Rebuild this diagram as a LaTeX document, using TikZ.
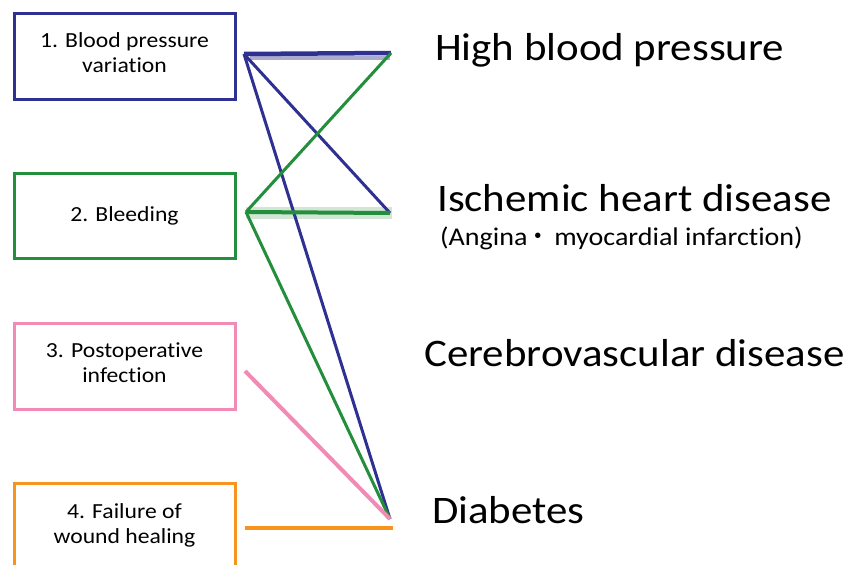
\documentclass[tikz,border=0pt]{standalone}
\usepackage{fontspec}
\setmainfont{Carlito}[FakeStretch=1.1,Ligatures=NoCommon]
\newfontfamily\cjk{Noto Sans CJK JP}
\newcommand{\lowstrut}{\rule[-6pt]{0pt}{6pt}}
\definecolor{cblue}{HTML}{2E3192}
\definecolor{cbluel}{HTML}{ABABCC}
\definecolor{cgreen}{HTML}{238E3B}
\definecolor{cgreenl}{HTML}{D3E5D5}
\definecolor{cpink}{HTML}{F28AB6}
\definecolor{corange}{HTML}{F7941D}
\begin{document}
\begin{tikzpicture}[x=1pt,y=-1pt,
  box/.style={draw,line width=3pt,fill=white,minimum width=221pt,align=center,
    inner sep=0pt,font=\fontsize{21.5}{25}\selectfont},
  big/.style={anchor=base west,inner sep=0pt,font=\fontsize{39}{44}\selectfont},
  small/.style={anchor=base west,inner sep=0pt,font=\fontsize{25.5}{28}\selectfont},
  link/.style={line width=3pt}]
\useasboundingbox (0,0) rectangle (852,565);
\clip (0,0) rectangle (852,565);
% boxes
\node[box,draw=cblue,minimum height=86pt] (b1) at (124.5,56) {1. Blood pressure\\variation\lowstrut};
\node[box,draw=cgreen,minimum height=85pt] (b2) at (124.5,215.5) {2. Bleeding};
\node[box,draw=cpink,minimum height=86pt] (b3) at (124.5,366) {3. Postoperative\\infection\lowstrut};
\node[box,draw=corange,minimum height=87pt] (b4) at (124.5,526.5) {4. Failure of\\wound healing\lowstrut};
% labels
\node[big] (t1) at (435,60) {High blood pressure};
\node[big] (t2) at (437,211) {Ischemic heart disease};
\node[small] (t2b) at (440,245) {(Angina\hspace{-2pt}{\cjk ・}\hspace{-3pt} myocardial infarction)};
\node[big] (t3) at (424,366) {Cerebrovascular disease};
\node[big] (t4) at (432,523) {Diabetes};
% connector points
\coordinate (L1) at (244,54);
\coordinate (R1) at (391,53);
\coordinate (L1b) at (250,58);
\coordinate (R1b) at (390,58);
\coordinate (L2) at (246,212);
\coordinate (R2) at (390,213);
\coordinate (L2b) at (246,213);
\coordinate (R2b) at (392,213);
\coordinate (L3) at (245,371);
\coordinate (R4) at (390,519);
\coordinate (L4) at (245,528);
\coordinate (R4b) at (393,528);
% light bands
\draw[cbluel,line width=4pt] (L1b) -- (R1b);
\draw[cgreenl,line width=12pt] (L2b) -- (R2b);
% blue
\draw[link,cblue,line width=4.5pt] (L1) -- (R1);
\draw[link,cblue] (L1) -- (R2);
\draw[link,cblue] (L1) -- (R4);
% green
\draw[link,cgreen] (L2) -- (R1);
\draw[link,cgreen,line width=4pt] (L2) -- (R2);
\draw[link,cgreen] (L2) -- (R4);
% pink
\draw[link,cpink,line width=4pt] (L3) -- (R4);
% orange
\draw[link,corange,line width=4.5pt] (L4) -- (R4b);
\end{tikzpicture}
\end{document}
